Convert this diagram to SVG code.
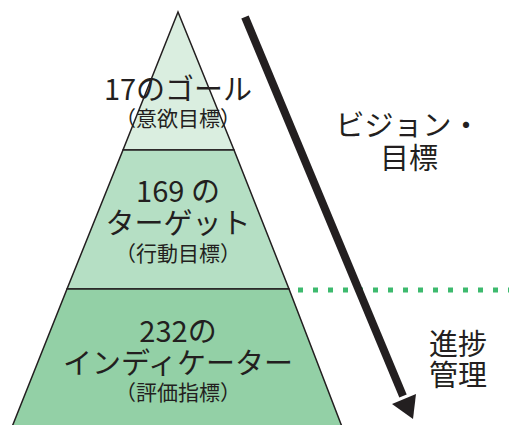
<svg xmlns="http://www.w3.org/2000/svg" width="509" height="425" viewBox="0 0 509 425">
<style>
.t{font-family:"Noto Sans CJK JP","Noto Sans",sans-serif;fill:#231f20;text-anchor:middle}
.big{font-size:29px}
.sm{font-size:21px}
.tier{stroke:#231f20;stroke-width:1.5}
</style>
<rect width="509" height="425" fill="#fff"/>
<g id="tier-goal">
<polygon class="tier" points="178,12 123,150 234,150" fill="#daeee0"/>
<text class="t big" x="178" y="100">17のゴール</text>
<text class="t sm" x="178" y="126">（意欲目標）</text>
</g>
<g id="tier-target">
<polygon class="tier" points="123,150 234,150 289,289 67,289" fill="#b5dfc4"/>
<text class="t big" x="178" y="202">169 の</text>
<text class="t big" x="178" y="234">ターゲット</text>
<text class="t sm" x="178" y="261">（行動目標）</text>
</g>
<g id="tier-indicator">
<polygon class="tier" points="67,289 289,289 344,432 10,432" fill="#93d0a6"/>
<text class="t big" x="178" y="342">232の</text>
<text class="t big" x="178" y="374">インディケーター</text>
<text class="t sm" x="178" y="400">（評価指標）</text>
</g>
<g id="connectors">
<line x1="298" y1="290" x2="509" y2="290" stroke="#3dba6e" stroke-width="5" stroke-dasharray="5 10"/>
<line x1="245" y1="17" x2="403" y2="396" stroke="#231f20" stroke-width="8"/>
<polygon points="392,404 416,394 413,419" fill="#231f20"/>
</g>
<g id="label-vision">
<text class="t big" x="408" y="136">ビジョン・</text>
<text class="t big" x="409" y="169">目標</text>
</g>
<g id="label-progress">
<text class="t big" x="458" y="355">進捗</text>
<text class="t big" x="458" y="386">管理</text>
</g>
</svg>
